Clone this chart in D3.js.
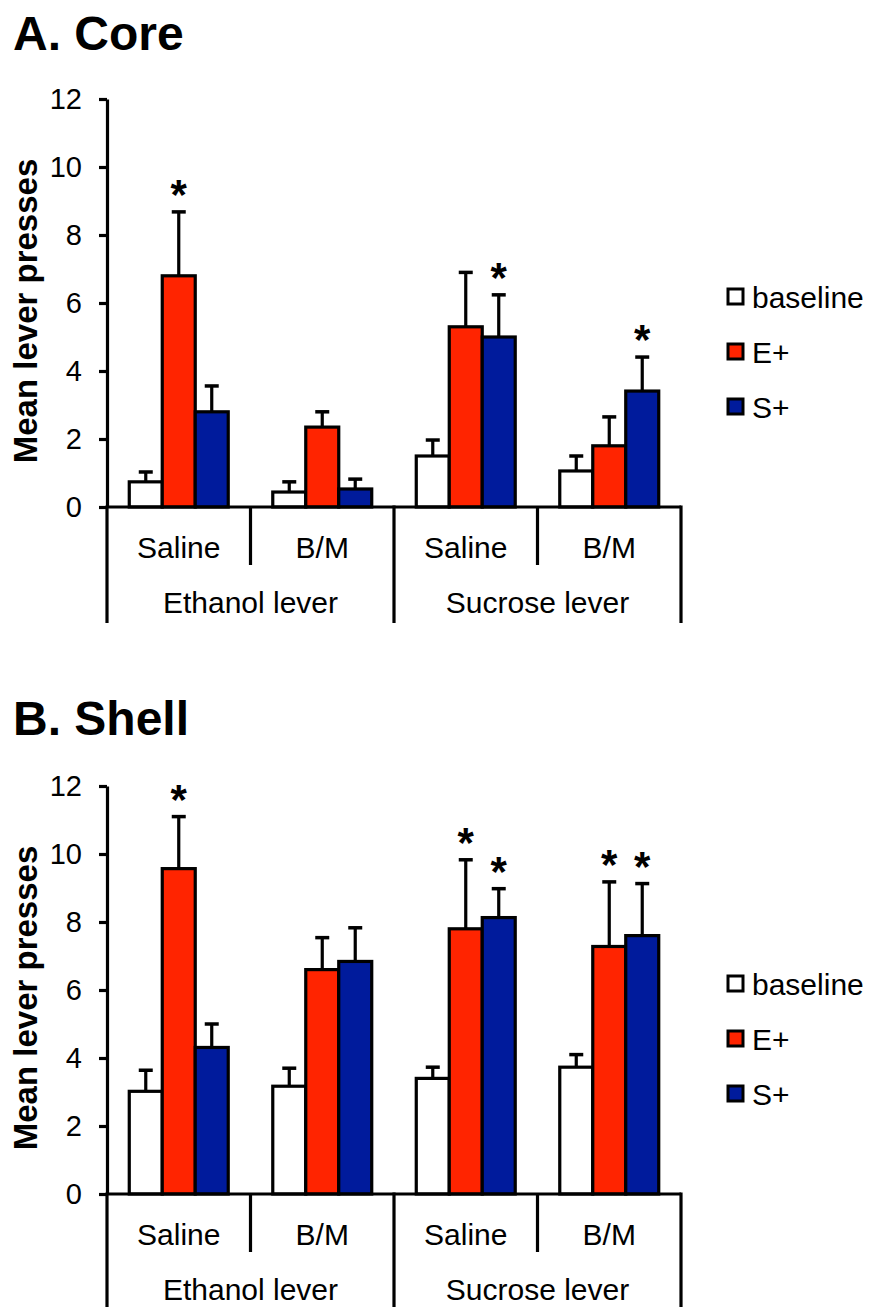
<!DOCTYPE html>
<html>
<head>
<meta charset="utf-8">
<script src="https://cdn.jsdelivr.net/npm/d3@7"></script>
<style>
  body { margin: 0; background: #fff; }
  svg { display: block; font-family: "Liberation Sans", Arial, sans-serif; }
</style>
</head>
<body>
<div id="chart"></div>
<script>
// Chart data
const conditions = ['Saline', 'B/M', 'Saline', 'B/M'];
const levers = ['Ethanol lever', 'Sucrose lever'];
const series = ['baseline', 'E+', 'S+'];
const colors = ['#ffffff', '#ff2400', '#001b9c'];
const yTicks = [0, 2, 4, 6, 8, 10, 12];

// means per condition: [baseline, E+, S+]
const coreMeans = [[0.74, 6.8, 2.8], [0.44, 2.35, 0.53], [1.5, 5.3, 5.0], [1.06, 1.8, 3.41]];
const coreSem = [[0.29, 1.88, 0.76], [0.3, 0.45, 0.29], [0.47, 1.6, 1.24], [0.44, 0.85, 1.0]];
const coreStars = [[0, 1], [2, 2], [3, 2]];

const shellMeans = [[3.02, 9.57, 4.31], [3.17, 6.6, 6.84], [3.4, 7.8, 8.13], [3.73, 7.28, 7.6]];
const shellSem = [[0.62, 1.53, 0.69], [0.53, 0.94, 0.99], [0.33, 2.03, 0.85], [0.37, 1.9, 1.53]];
const shellStars = [[0, 1], [2, 1], [2, 2], [3, 1], [3, 2]];

// Layout
const W = 869, H = 1307;
const X0 = 107, X1 = 681;

const svg = d3.select('#chart').append('svg')
  .attr('width', W)
  .attr('height', H);

drawPanel({ title: 'A. Core', titleY: 50, y0: 507, means: coreMeans, sem: coreSem, stars: coreStars });
drawPanel({ title: 'B. Shell', titleY: 735, y0: 1194, means: shellMeans, sem: shellSem, stars: shellStars });

function drawPanel(p) {
  const g = svg.append('g');

  const y = d3.scaleLinear().domain([0, 12]).range([p.y0, p.y0 - 408]);
  const xGroup = d3.scaleBand().domain(d3.range(conditions.length)).range([X0, X1]);
  const xBar = d3.scaleBand().domain(series).range([0, xGroup.bandwidth()]).paddingOuter(0.675);

  // title
  g.append('text')
    .attr('x', 13)
    .attr('y', p.titleY)
    .attr('font-size', 48)
    .attr('font-weight', 'bold')
    .text(p.title);

  // y axis title
  g.append('text')
    .attr('transform', `translate(37,${(y(0) + y(12)) / 2 + 8}) rotate(-90)`)
    .attr('text-anchor', 'middle')
    .attr('font-size', 33)
    .attr('font-weight', 'bold')
    .text('Mean lever presses');

  // bars
  const groups = g.selectAll('.grp')
    .data(p.means)
    .enter().append('g')
    .attr('transform', (d, i) => `translate(${xGroup(i)},0)`);

  groups.selectAll('rect')
    .data(d => d.map((v, j) => ({ v, j })))
    .enter().append('rect')
    .attr('x', d => xBar(series[d.j]))
    .attr('y', d => y(d.v))
    .attr('width', xBar.bandwidth())
    .attr('height', d => y(0) - y(d.v))
    .attr('fill', d => colors[d.j])
    .attr('stroke', '#000')
    .attr('stroke-width', 3.2);

  // error bars
  const errs = groups.selectAll('.err')
    .data((d, i) => d.map((v, j) => ({ v, e: p.sem[i][j], j })))
    .enter().append('g');

  errs.append('line')
    .attr('x1', d => xBar(series[d.j]) + xBar.bandwidth() / 2)
    .attr('x2', d => xBar(series[d.j]) + xBar.bandwidth() / 2)
    .attr('y1', d => y(d.v))
    .attr('y2', d => y(d.v + d.e))
    .attr('stroke', '#000')
    .attr('stroke-width', 3.2);

  errs.append('line')
    .attr('x1', d => xBar(series[d.j]) + xBar.bandwidth() / 2 - 7)
    .attr('x2', d => xBar(series[d.j]) + xBar.bandwidth() / 2 + 7)
    .attr('y1', d => y(d.v + d.e))
    .attr('y2', d => y(d.v + d.e))
    .attr('stroke', '#000')
    .attr('stroke-width', 3.5);

  // significance stars
  g.selectAll('.star')
    .data(p.stars)
    .enter().append('text')
    .attr('x', d => xGroup(d[0]) + xBar(series[d[1]]) + xBar.bandwidth() / 2)
    .attr('y', d => y(p.means[d[0]][d[1]] + p.sem[d[0]][d[1]]) - 3)
    .attr('text-anchor', 'middle')
    .attr('font-size', 42)
    .attr('font-weight', 'bold')
    .text('*');

  // y axis
  const yAxis = g.append('g')
    .attr('transform', `translate(${X0},0)`)
    .call(d3.axisLeft(y).tickValues(yTicks).tickSize(8).tickSizeOuter(0).tickPadding(17));
  yAxis.select('.domain').attr('stroke-width', 3.2);
  yAxis.selectAll('.tick line').attr('stroke-width', 3.2);
  yAxis.selectAll('.tick text')
    .attr('font-size', 29)
    .attr('font-family', '"Liberation Sans", Arial, sans-serif')
    .attr('fill', '#000');

  // category axis
  g.append('line')
    .attr('x1', X0).attr('x2', X1)
    .attr('y1', y(0)).attr('y2', y(0))
    .attr('stroke', '#000').attr('stroke-width', 3.2);

  // inner separators between conditions
  [1, 3].forEach(i => {
    g.append('line')
      .attr('x1', xGroup(i)).attr('x2', xGroup(i))
      .attr('y1', y(0)).attr('y2', y(0) + 58)
      .attr('stroke', '#000').attr('stroke-width', 3.2);
  });
  // outer separators between levers
  [X0, xGroup(2), X1].forEach(x => {
    g.append('line')
      .attr('x1', x).attr('x2', x)
      .attr('y1', y(0) - 1.5).attr('y2', y(0) + 116)
      .attr('stroke', '#000').attr('stroke-width', 3.2);
  });

  g.selectAll('.cond')
    .data(conditions)
    .enter().append('text')
    .attr('x', (d, i) => xGroup(i) + xGroup.bandwidth() / 2)
    .attr('y', y(0) + 51)
    .attr('text-anchor', 'middle')
    .attr('font-size', 30)
    .text(d => d);

  g.selectAll('.lever')
    .data(levers)
    .enter().append('text')
    .attr('x', (d, i) => xGroup(i * 2) + xGroup.bandwidth())
    .attr('y', y(0) + 106)
    .attr('text-anchor', 'middle')
    .attr('font-size', 30)
    .text(d => d);

  // legend
  const legend = g.selectAll('.legend')
    .data(series)
    .enter().append('g')
    .attr('transform', (d, i) => `translate(728,${y(0) - 210 + i * 55})`);

  legend.append('rect')
    .attr('x', 0).attr('y', -8)
    .attr('width', 15).attr('height', 15)
    .attr('fill', (d, i) => colors[i])
    .attr('stroke', '#000')
    .attr('stroke-width', 3);

  legend.append('text')
    .attr('x', 24)
    .attr('y', 0)
    .attr('dy', '0.35em')
    .attr('font-size', 30)
    .text(d => d);
}
</script>
</body>
</html>
